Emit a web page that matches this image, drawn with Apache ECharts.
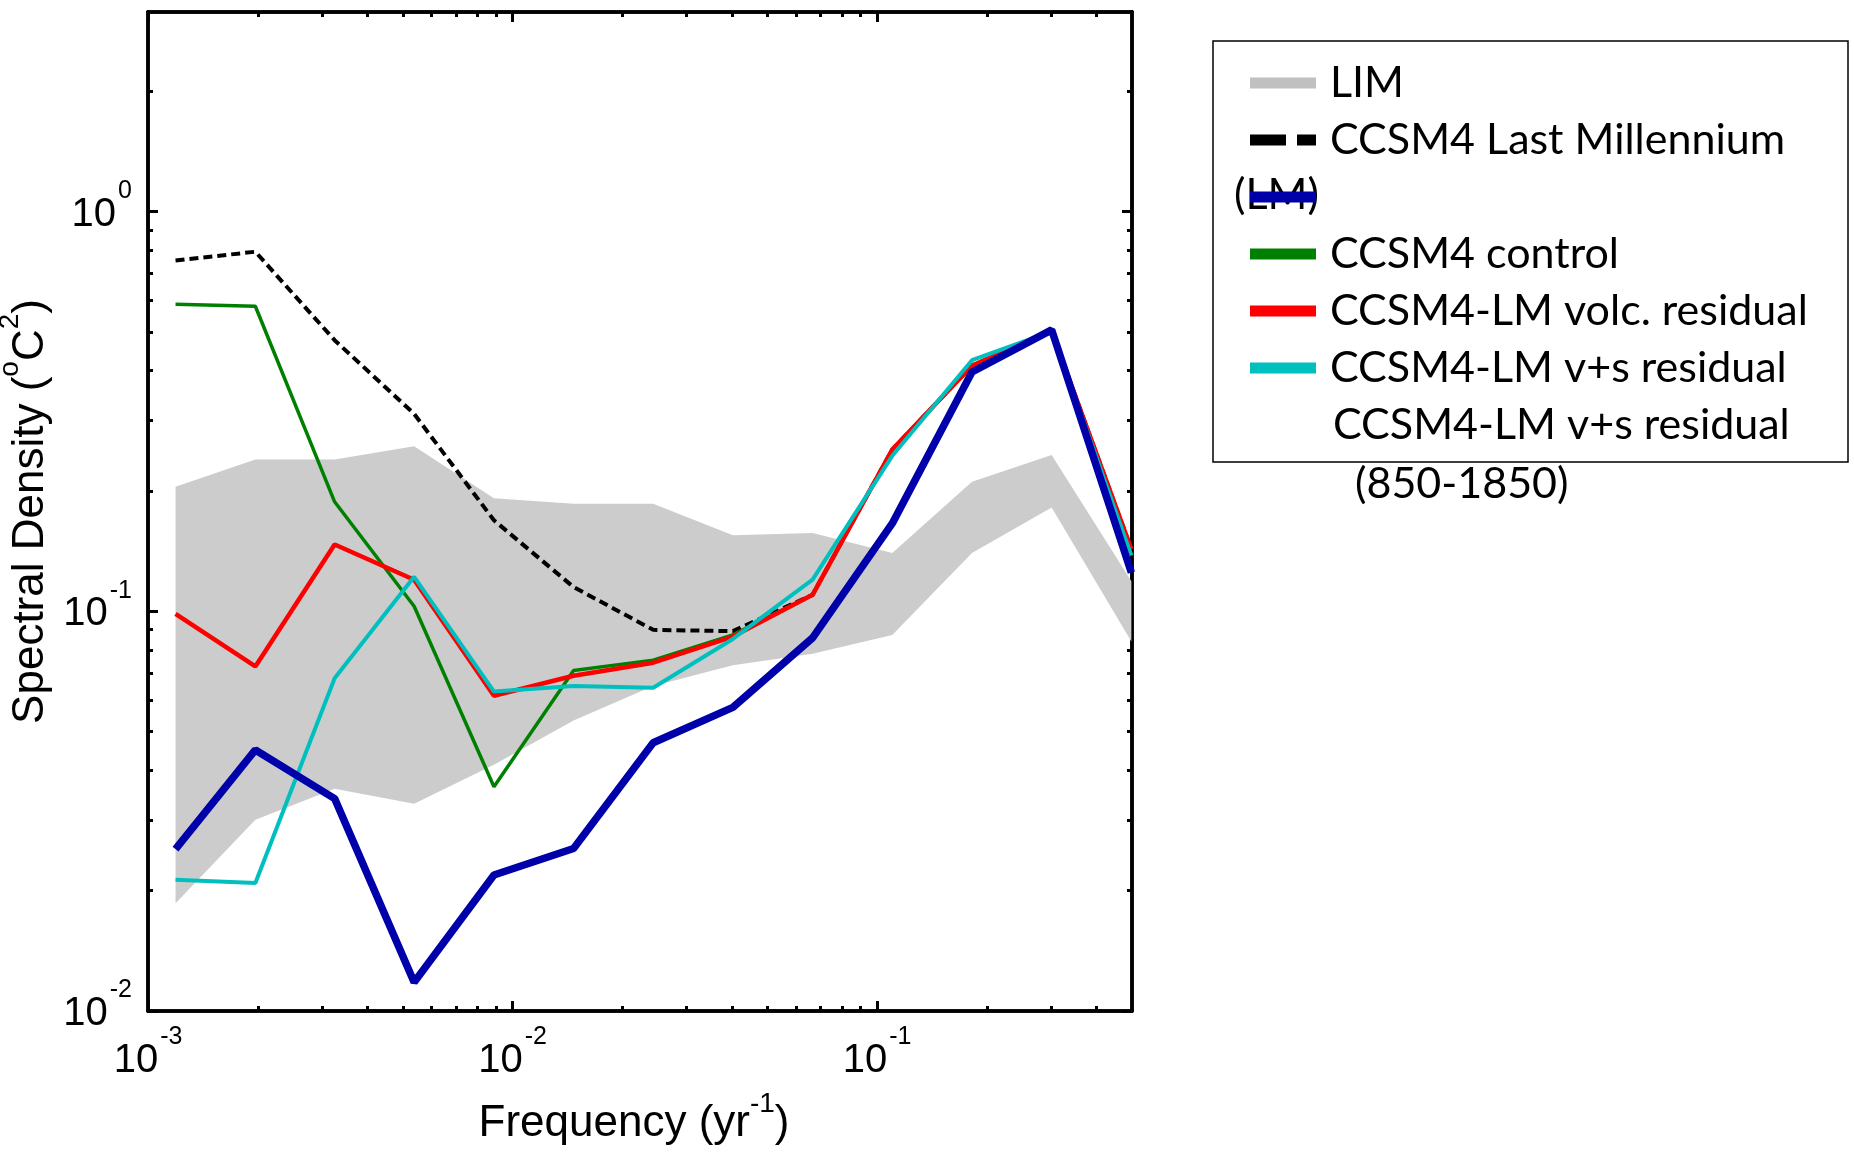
<!DOCTYPE html>
<html>
<head>
<meta charset="utf-8">
<title>Spectral density</title>
<script src="https://cdn.jsdelivr.net/npm/echarts@6/dist/echarts.min.js"></script>
<style>
    html, body { margin: 0; padding: 0; background: #fff; }
    #chart { width: 1854px; height: 1153px; }
</style>
</head>
<body>
<div id="chart"></div>
<script>
// frequencies (yr^-1) of the spectral estimates
const freq = [0.00119, 0.00197, 0.00325, 0.00537, 0.00889, 0.0147, 0.0243, 0.0402, 0.0665, 0.110, 0.182, 0.301, 0.498]

// LIM range (grey band)
const limUpper = [0.205, 0.240, 0.240, 0.259, 0.192, 0.186, 0.186, 0.155, 0.157, 0.140, 0.211, 0.246, 0.119]
const limLower = [0.0186, 0.0301, 0.0360, 0.0330, 0.0413, 0.0533, 0.0650, 0.0733, 0.0783, 0.0873, 0.140, 0.182, 0.084]

const lastMillennium = [0.755, 0.794, 0.477, 0.312, 0.169, 0.115, 0.0899, 0.0892, 0.110, 0.254, 0.412, 0.502, 0.143]
const control = [0.587, 0.580, 0.188, 0.103, 0.0364, 0.0711, 0.0755, 0.0873, 0.110, 0.254, 0.412, 0.502, 0.143]
const volcResidual = [0.0985, 0.0728, 0.147, 0.120, 0.0615, 0.0690, 0.0744, 0.0865, 0.110, 0.254, 0.412, 0.502, 0.143]
const vsResidual = [0.0213, 0.0209, 0.0680, 0.122, 0.0630, 0.0650, 0.0644, 0.0853, 0.120, 0.245, 0.425, 0.502, 0.138]
const vsResidual850 = [0.0254, 0.0450, 0.0340, 0.0118, 0.0219, 0.0255, 0.0469, 0.0575, 0.0858, 0.166, 0.397, 0.506, 0.125]

// ticks
const xMajor = [0.001, 0.01, 0.1]
const xMinor = [0.002, 0.003, 0.004, 0.005, 0.006, 0.007, 0.008, 0.009,
    0.02, 0.03, 0.04, 0.05, 0.06, 0.07, 0.08, 0.09, 0.2, 0.3, 0.4]
const yMajor = [0.01, 0.1, 1]
const yMinor = [0.02, 0.03, 0.04, 0.05, 0.06, 0.07, 0.08, 0.09,
    0.2, 0.3, 0.4, 0.5, 0.6, 0.7, 0.8, 0.9, 2]

const legendText = {
    'LIM': 'LIM',
    'CCSM4 Last Millennium (LM)': 'CCSM4 Last Millennium',
    'CCSM4-LM v+s residual (850-1850)': ' ',
    'CCSM4 control': 'CCSM4 control',
    'CCSM4-LM volc. residual': 'CCSM4-LM volc. residual',
    'CCSM4-LM v+s residual': 'CCSM4-LM v+s residual'
}

const pairs = arr => freq.map((f, i) => [f, arr[i]])

const axisFont = 'Liberation Sans'
const legendFont = '43px Lato'
// "10" with a raised exponent
const tickRich = {
    b: { fontSize: 40, lineHeight: 56, verticalAlign: 'bottom', color: '#000', fontFamily: axisFont },
    s: { fontSize: 25, lineHeight: 26, verticalAlign: 'top', color: '#000', fontFamily: axisFont, padding: [0, 0, 0, 2] }
}
const nameRich = {
    t: { fontSize: 44, lineHeight: 56, verticalAlign: 'bottom', color: '#000', fontFamily: axisFont },
    s: { fontSize: 28, lineHeight: 28, verticalAlign: 'top', color: '#000', fontFamily: axisFont }
}
const powLabel = v => '{b|10}{s|' + Math.round(Math.log10(v)) + '}'

function logAxis(position, min, max, ticks, len, label) {
    return {
        type: 'log',
        logBase: 10,
        position,
        min,
        max,
        axisLine: { show: true, onZero: false, lineStyle: { color: '#000', width: 3.5 } },
        axisTick: { show: true, inside: true, length: len, customValues: ticks, lineStyle: { color: '#000', width: 3 } },
        axisLabel: label || { show: false },
        splitLine: { show: false },
        minorTick: { show: false },
        minorSplitLine: { show: false }
    }
}

const xAxes = [
    logAxis('bottom', 0.001, 0.5, xMajor, 10, {
        show: true, customValues: xMajor, margin: 14, formatter: powLabel, rich: tickRich
    }),
    logAxis('bottom', 0.001, 0.5, xMinor, 5),
    logAxis('top', 0.001, 0.5, xMajor, 10),
    logAxis('top', 0.001, 0.5, xMinor, 5)
]
xAxes[0].name = '{t|Frequency (yr}{s|-1}{t|)}'
xAxes[0].nameLocation = 'middle'
xAxes[0].nameGap = 79
xAxes[0].nameTextStyle = { rich: nameRich, padding: [0, 12, 0, 0] }

const yAxes = [
    logAxis('left', 0.01, 3.16, yMajor, 10, {
        show: true, customValues: yMajor, margin: 16, padding: [0, 0, 10, 0], formatter: powLabel, rich: tickRich
    }),
    logAxis('left', 0.01, 3.16, yMinor, 5),
    logAxis('right', 0.01, 3.16, yMajor, 10),
    logAxis('right', 0.01, 3.16, yMinor, 5)
]
yAxes[0].name = '{t|Spectral Density (}{s|o}{t|C}{s|2}{t|)}'
yAxes[0].nameLocation = 'middle'
yAxes[0].nameGap = 90
yAxes[0].nameTextStyle = { rich: nameRich }

function lineSeries(name, arr, color, width, type) {
    return {
        name,
        type: 'line',
        data: pairs(arr),
        color,
        symbol: 'none',
        lineStyle: { color, width, type: type || 'solid' },
        xAxisIndex: 0,
        yAxisIndex: 0
    }
}

const option = {
    animation: false,
    backgroundColor: '#fff',
    textStyle: { fontFamily: axisFont },
    grid: { left: 148, right: 722, top: 12, bottom: 142, outerBoundsMode: 'none' },
    xAxis: xAxes,
    yAxis: yAxes,
    legend: {
        orient: 'vertical',
        left: 1250,
        top: 58,
        padding: 0,
        itemWidth: 66,
        itemHeight: 11,
        itemGap: 7,
        itemStyle: { borderWidth: 0 },
        textStyle: { fontFamily: 'Lato', fontSize: 43, lineHeight: 50, color: '#000', padding: [0, 0, 0, 9] },
        formatter: name => legendText[name],
        data: [
            { name: 'LIM', icon: 'rect' },
            { name: 'CCSM4 Last Millennium (LM)', icon: 'path://M0,0H36V11H0Z M47,0H66V11H47Z' },
            { name: 'CCSM4-LM v+s residual (850-1850)', icon: 'rect' },
            { name: 'CCSM4 control', icon: 'rect' },
            { name: 'CCSM4-LM volc. residual', icon: 'rect' },
            { name: 'CCSM4-LM v+s residual', icon: 'rect' }
        ]
    },
    graphic: [
        {
            type: 'rect', z: 1,
            shape: { x: 1213, y: 41, width: 635, height: 421 },
            style: { fill: 'none', stroke: '#000', lineWidth: 1.5 }
        },
        {
            type: 'text', z: 1, x: 1234, y: 195,
            style: { text: '(LM)', font: legendFont, fill: '#000', verticalAlign: 'middle' }
        },
        {
            type: 'text', z: 1, x: 1333, y: 425,
            style: { text: 'CCSM4-LM v+s residual', font: legendFont, fill: '#000', verticalAlign: 'middle' }
        },
        {
            type: 'text', z: 1, x: 1355, y: 484,
            style: { text: '(850-1850)', font: legendFont, fill: '#000', verticalAlign: 'middle' }
        }
    ],
    series: [
        {
            name: 'LIM',
            type: 'custom',
            data: freq.map((f, i) => [f, limLower[i], limUpper[i]]),
            encode: { x: 0, y: [1, 2] },
            itemStyle: { color: '#c0c0c0' },
            xAxisIndex: 0,
            yAxisIndex: 0,
            renderItem(params, api) {
                if (params.dataIndex !== 0) {
                    return
                }
                const points = []
                for (let i = 0; i < freq.length; i++) {
                    points.push(api.coord([freq[i], limUpper[i]]))
                }
                for (let i = freq.length - 1; i >= 0; i--) {
                    points.push(api.coord([freq[i], limLower[i]]))
                }
                return {
                    type: 'polygon',
                    shape: { points },
                    style: { fill: '#cccccc', stroke: 'none' }
                }
            }
        },
        lineSeries('CCSM4 Last Millennium (LM)', lastMillennium, '#000000', 4, [9, 5]),
        lineSeries('CCSM4 control', control, '#008000', 3.5),
        lineSeries('CCSM4-LM volc. residual', volcResidual, '#ff0000', 4.5),
        lineSeries('CCSM4-LM v+s residual', vsResidual, '#00bfbf', 4),
        lineSeries('CCSM4-LM v+s residual (850-1850)', vsResidual850, '#0000aa', 7.5)
    ]
}

const chart = echarts.init(document.getElementById('chart'))
chart.setOption(option)
</script>
</body>
</html>
